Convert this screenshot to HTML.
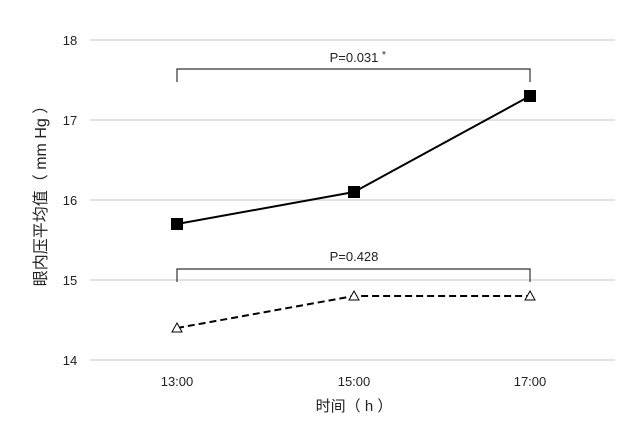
<!DOCTYPE html>
<html><head><meta charset="utf-8"><style>body{margin:0;background:#fff}svg{display:block}</style></head><body>
<svg width="640" height="428" xmlns="http://www.w3.org/2000/svg" font-family="Liberation Sans, Noto Sans CJK SC, sans-serif">
<g stroke="#d0d0d0" stroke-width="1.3">
<line x1="90" y1="40" x2="615" y2="40"/><line x1="90" y1="120" x2="615" y2="120"/><line x1="90" y1="200" x2="615" y2="200"/><line x1="90" y1="280" x2="615" y2="280"/><line x1="90" y1="360" x2="615" y2="360"/>
</g>
<g font-size="13" fill="#222" text-anchor="middle">
<text x="70" y="45">18</text><text x="70" y="125">17</text><text x="70" y="205">16</text><text x="70" y="285">15</text><text x="70" y="365">14</text>
<text x="177" y="386">13:00</text><text x="354" y="386">15:00</text><text x="530" y="386">17:00</text>
<text x="354" y="62">P=0.031</text><text x="384" y="58" font-size="10">*</text>
<text x="354" y="261">P=0.428</text>
<text x="354" y="411" font-size="15">时间（ h ）</text>
<text transform="translate(46,192) rotate(-90)" font-size="16">眼内压平均值（ mm Hg ）</text>
</g>
<g fill="none" stroke="#333" stroke-width="1.2">
<polyline points="177,82 177,69 530,69 530,82"/>
<polyline points="177,282 177,269 530,269 530,282"/>
</g>
<polyline points="177,224 354,192 530,96" fill="none" stroke="#000" stroke-width="2"/>
<polyline points="177,328 354,296 530,296" fill="none" stroke="#000" stroke-width="2" stroke-dasharray="7,4"/>
<g fill="#000"><rect x="171" y="218" width="12" height="12"/><rect x="348" y="186" width="12" height="12"/><rect x="524" y="90" width="12" height="12"/></g>
<g fill="#fff" stroke="#000" stroke-width="1"><polygon points="177,323 182,332 172,332"/><polygon points="354,291 359,300 349,300"/><polygon points="530,291 535,300 525,300"/></g>
</svg>
</body></html>
